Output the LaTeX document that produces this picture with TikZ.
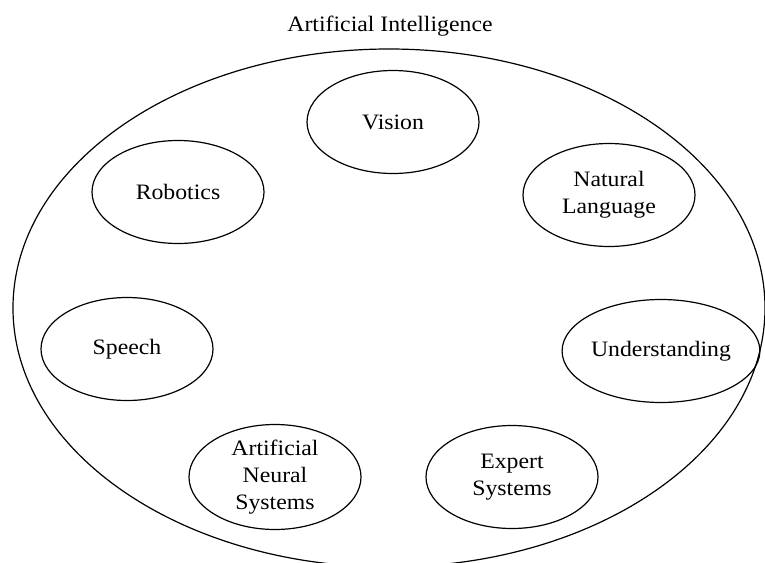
\documentclass[tikz,border=0pt]{standalone}
\usepackage{fontspec}
\setmainfont{Liberation Serif}[FakeStretch=1.08]
\usetikzlibrary{shapes.geometric}

\begin{document}
\begin{tikzpicture}[x=0.5pt,y=-0.5pt,
  area/.style={draw, ellipse, line width=0.6pt, minimum width=86pt, minimum height=51.5pt,
    inner sep=0pt, align=center, font=\fontsize{11}{13.5}\selectfont}]
\clip (0,0) rectangle (765,562);
\coordinate (o) at (389,308);

 \node[font=\fontsize{11}{13.5}\selectfont, anchor=base] (title) at (390,32) {Artificial Intelligence};
 \draw[line width=0.6pt] (o) ellipse [x radius=376, y radius=259];

 \node[area] (vision)   at (393,122) {Vision};
 \node[area] (robotics) at (178,192) {Robotics};
 \node[area] (natlang)  at (609,195) {Natural\\Language};
 \node[area] (speech)   at (127,349) {Speech};
 \node[area] (underst)  at (661,351) {Understanding};
 \node[area] (ans)      at (275,477) {Artificial\\Neural\\Systems};
 \node[area] (expert)   at (512,477) {Expert\\Systems};
\end{tikzpicture}
\end{document}
